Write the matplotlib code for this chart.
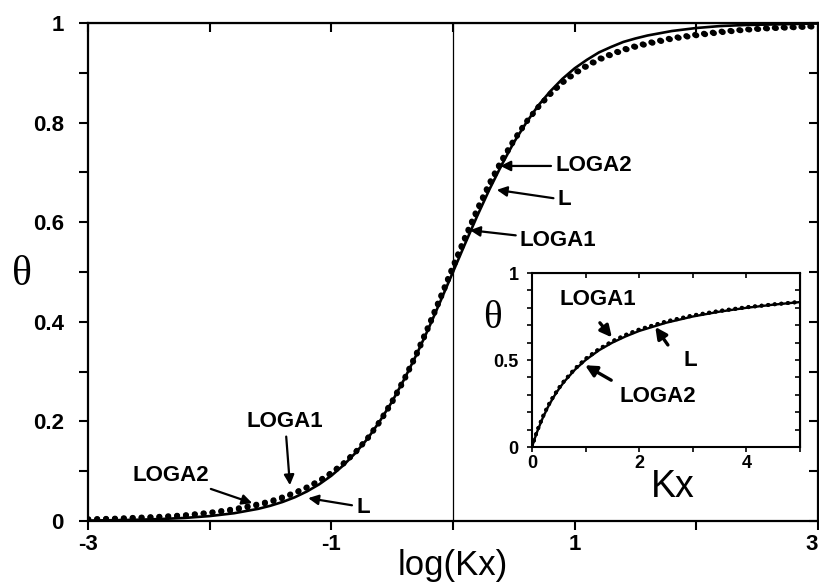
import matplotlib
matplotlib.use("Agg")
import matplotlib.pyplot as plt

plt.rcParams["font.family"] = ["Liberation Sans", "DejaVu Sans"]
plt.rcParams["axes.unicode_minus"] = False

# log(Kx) grid and coverage curves for the main panel
log_kx = [-3.0, -2.8, -2.6, -2.4, -2.2, -2.0, -1.8, -1.6,
          -1.5, -1.4, -1.3, -1.2, -1.1, -1.0, -0.9, -0.8, -0.7, -0.6,
          -0.5, -0.4, -0.3, -0.2, -0.1, 0.0, 0.1, 0.2, 0.3, 0.4, 0.5,
          0.6, 0.7, 0.8, 0.9, 1.0, 1.1, 1.2, 1.3, 1.4, 1.5,
          1.6, 1.8, 2.0, 2.2, 2.4, 2.6, 2.8, 3.0]
theta_L = [0.001, 0.0016, 0.0025, 0.004, 0.0063, 0.0099, 0.0156, 0.0245,
           0.0307, 0.0383, 0.0477, 0.0594, 0.0736, 0.0909, 0.112, 0.137, 0.166, 0.201,
           0.240, 0.285, 0.334, 0.387, 0.443, 0.500, 0.557, 0.613, 0.666, 0.715, 0.760,
           0.799, 0.834, 0.863, 0.888, 0.909, 0.926, 0.941, 0.952, 0.962, 0.969,
           0.975, 0.984, 0.990, 0.994, 0.996, 0.997, 0.998, 0.999]
theta_loga1 = [0.003, 0.004, 0.006, 0.008, 0.011, 0.016, 0.022, 0.032,
               0.038, 0.046, 0.056, 0.067, 0.080, 0.096, 0.115, 0.138, 0.166, 0.199,
               0.238, 0.283, 0.333, 0.389, 0.448, 0.508, 0.567, 0.623, 0.675, 0.722, 0.763,
               0.800, 0.831, 0.858, 0.881, 0.900, 0.915, 0.928, 0.938, 0.947, 0.954,
               0.960, 0.970, 0.977, 0.983, 0.987, 0.990, 0.992, 0.994]
theta_loga2 = [0.004, 0.005, 0.007, 0.009, 0.012, 0.017, 0.024, 0.034,
               0.040, 0.048, 0.057, 0.068, 0.081, 0.097, 0.116, 0.139, 0.167, 0.201,
               0.241, 0.286, 0.337, 0.393, 0.452, 0.512, 0.571, 0.627, 0.679, 0.725, 0.765,
               0.801, 0.831, 0.857, 0.880, 0.898, 0.913, 0.926, 0.936, 0.945, 0.952,
               0.958, 0.968, 0.975, 0.981, 0.986, 0.989, 0.991, 0.993]

# Kx grid and curves for the inset (linear scale)
kx = [0.0, 0.05, 0.1, 0.2, 0.3, 0.4, 0.5, 0.6, 0.8, 1.0, 1.25, 1.5,
      1.75, 2.0, 2.5, 3.0, 3.5, 4.0, 4.5, 5.0]
ins_L = [0.0, 0.048, 0.091, 0.167, 0.231, 0.286, 0.333, 0.375, 0.444, 0.500,
         0.556, 0.600, 0.636, 0.667, 0.714, 0.750, 0.778, 0.800, 0.818, 0.833]
ins_loga1 = [0.0, 0.050, 0.095, 0.172, 0.236, 0.290, 0.337, 0.379, 0.449, 0.506,
             0.563, 0.608, 0.645, 0.676, 0.722, 0.757, 0.783, 0.804, 0.820, 0.834]
ins_loga2 = [0.0, 0.051, 0.097, 0.174, 0.238, 0.292, 0.339, 0.380, 0.450, 0.507,
             0.563, 0.607, 0.644, 0.674, 0.720, 0.755, 0.781, 0.802, 0.819, 0.834]

dot_style = dict(color="black", lw=4.0, linestyle=(0, (0.1, 1.5)),
                 dash_capstyle="round")
lab_font = dict(fontsize=16, fontweight="bold")
arrow = dict(arrowstyle="-|>", color="black", lw=1.6, mutation_scale=15,
             shrinkA=1, shrinkB=0)

fig = plt.figure(figsize=(8.2, 5.86), dpi=100)
ax = fig.add_axes([0.1073, 0.1109, 0.8902, 0.8498])

ax.plot(log_kx, theta_L, color="black", lw=1.9)
ax.plot(log_kx, theta_loga1, **dot_style)
ax.plot(log_kx, theta_loga2, **dot_style)
ax.axvline(0, color="black", lw=0.9)

ax.set_xlim(-3, 3)
ax.set_ylim(0, 1)
ax.set_xticks([-3, -2, -1, 0, 1, 2, 3])
ax.set_xticklabels(["-3", "", "-1", "", "1", "", "3"])
ax.set_yticks([0, 0.2, 0.4, 0.6, 0.8, 1.0])
ax.set_yticklabels(["0", "0.2", "0.4", "0.6", "0.8", "1"])
ax.set_yticks([0.1, 0.3, 0.5, 0.7, 0.9], minor=True)
ax.tick_params(which="both", direction="out", length=6.5, width=1.5,
               labelsize=16)
ax.tick_params(axis="x", pad=3)
ax.tick_params(axis="y", pad=11)
for t in ax.get_xticklabels() + ax.get_yticklabels():
    t.set_fontweight("bold")
ax.get_xticklabels()[-1].set_horizontalalignment("right")
for s in ax.spines.values():
    s.set_linewidth(1.6)

# top and right ticks point into the plot
top = ax.secondary_xaxis("top")
top.set_xticks([-3, -2, -1, 0, 1, 2, 3])
top.tick_params(direction="in", length=6.5, width=1.5, labeltop=False)
right = ax.secondary_yaxis("right")
right.set_yticks([0, 0.1, 0.2, 0.3, 0.4, 0.5, 0.6, 0.7, 0.8, 0.9, 1.0])
right.tick_params(direction="in", length=6.5, width=1.5, labelright=False)

ax.set_xlabel("log(Kx)", fontsize=25, va="center")
ax.xaxis.set_label_coords(0.5, -0.09)
ax.set_ylabel("θ", fontsize=30, family=["Liberation Serif", "DejaVu Serif"],
              rotation=0, va="center", ha="center")
ax.yaxis.set_label_coords(-0.09, 0.494)

# labels on the main panel
ax.annotate("LOGA2", xy=(0.39, 0.713), xytext=(0.84, 0.713), va="center",
            arrowprops=arrow, **lab_font)
ax.annotate("L", xy=(0.36, 0.665), xytext=(0.86, 0.645), va="center",
            arrowprops=arrow, **lab_font)
ax.annotate("LOGA1", xy=(0.14, 0.584), xytext=(0.55, 0.564), va="center",
            arrowprops=arrow, **lab_font)
ax.annotate("LOGA1", xy=(-1.34, 0.072), xytext=(-1.38, 0.199), ha="center",
            va="center", arrowprops=arrow, **lab_font)
ax.annotate("LOGA2", xy=(-1.65, 0.036), xytext=(-2.32, 0.092), ha="center",
            va="center", arrowprops=arrow, **lab_font)
ax.annotate("L", xy=(-1.19, 0.046), xytext=(-0.74, 0.028), ha="center",
            va="center", arrowprops=arrow, **lab_font)

# inset on a linear Kx axis
ins = fig.add_axes([0.6488, 0.2372, 0.3268, 0.2969])
ins.plot(kx, ins_L, color="black", lw=1.7)
ins.plot(kx, ins_loga1, color="black", lw=2.8, linestyle=(0, (0.1, 1.6)),
         dash_capstyle="round")
ins.plot(kx, ins_loga2, color="black", lw=2.8, linestyle=(0, (0.1, 1.6)),
         dash_capstyle="round")
ins.set_xlim(0, 5)
ins.set_ylim(0, 1)
ins.set_xticks([0, 1, 2, 3, 4, 5])
ins.set_xticklabels(["0", "", "2", "", "4", ""])
ins.set_yticks([0, 0.5, 1])
ins.set_yticklabels(["0", "0.5", "1"])
ins.set_yticks([0.1, 0.2, 0.3, 0.4, 0.6, 0.7, 0.8, 0.9], minor=True)
ins.tick_params(which="both", direction="out", length=3.5, width=1.2,
                labelsize=13)
ins.tick_params(axis="x", pad=2)
ins.tick_params(axis="y", pad=6)
for t in ins.get_xticklabels() + ins.get_yticklabels():
    t.set_fontweight("bold")
for s in ins.spines.values():
    s.set_linewidth(1.5)
itop = ins.secondary_xaxis("top")
itop.set_xticks([0, 1, 2, 3, 4, 5])
itop.tick_params(direction="in", length=3.5, width=1.2, labeltop=False)
iright = ins.secondary_yaxis("right")
iright.set_yticks([0, 0.1, 0.2, 0.3, 0.4, 0.5, 0.6, 0.7, 0.8, 0.9, 1.0])
iright.tick_params(direction="in", length=3.5, width=1.2, labelright=False)

ins.set_xlabel("Kx", fontsize=27, va="center")
ins.xaxis.set_label_coords(0.526, -0.23)
ins.set_ylabel("θ", fontsize=28, family=["Liberation Serif", "DejaVu Serif"],
               rotation=0, va="center", ha="center")
ins.yaxis.set_label_coords(-0.149, 0.741)

small_arrow = dict(arrow, mutation_scale=17, lw=2.4)
ins.annotate("LOGA1", xy=(1.23, 0.845), ha="center", va="center",
             fontsize=16, fontweight="bold")
ins.annotate("", xy=(1.49, 0.63), xytext=(1.25, 0.72), arrowprops=small_arrow)
ins.annotate("L", xy=(2.95, 0.50), ha="center", va="center", fontsize=16,
             fontweight="bold")
ins.annotate("", xy=(2.3, 0.69), xytext=(2.55, 0.58), arrowprops=small_arrow)
ins.annotate("LOGA2", xy=(2.35, 0.29), ha="center", va="center", fontsize=16,
             fontweight="bold")
ins.annotate("", xy=(0.99, 0.47), xytext=(1.5, 0.38), arrowprops=small_arrow)

fig.savefig("out.png", dpi=100)
